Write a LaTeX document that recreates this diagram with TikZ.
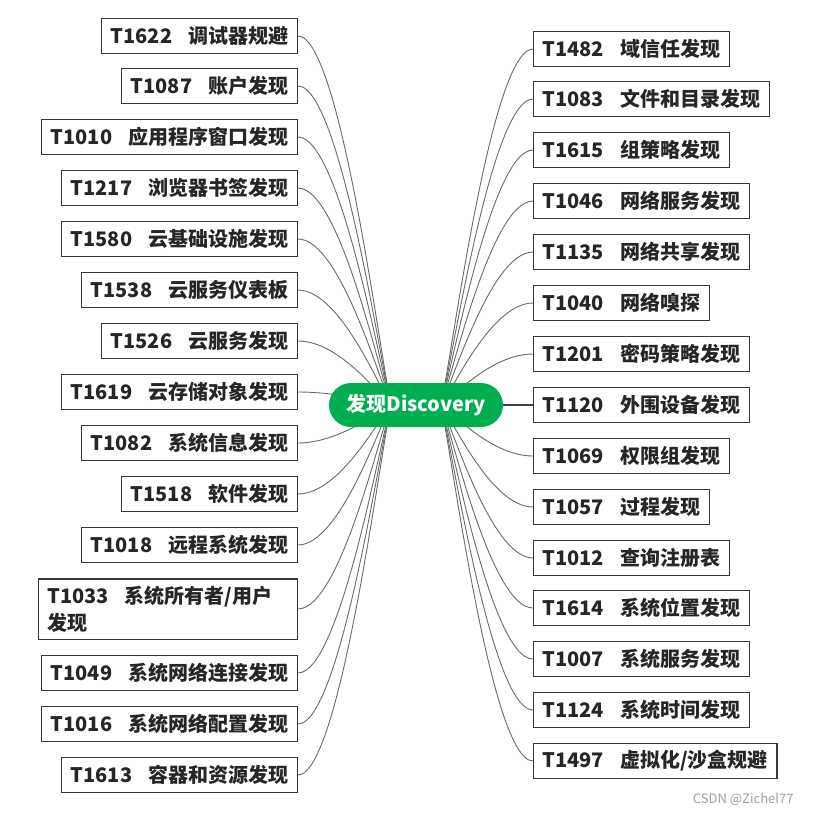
\documentclass[tikz,border=0pt]{standalone}
\usepackage{fontspec}
\setmainfont{Noto Sans CJK SC}
\definecolor{mapgreen}{HTML}{00AE4F}
\definecolor{linkgray}{HTML}{6A6A6A}
\tikzset{
  leaf/.style={draw=black!78, line width=1.3pt, fill=white, inner xsep=9pt, minimum height=35pt, font=\fontsize{20}{27}\selectfont\bfseries, text=black!85},
  link/.style={draw=linkgray, line width=0.9pt},
}
\newcommand{\tk}[2]{#1\hspace{0.8em}#2}
\begin{document}
\begin{tikzpicture}[x=1pt, y=-1pt]
\useasboundingbox (0,0) rectangle (813,814);
\node[leaf, anchor=east] (t1622) at (298,36) {\tk{T1622}{调试器规避}};
\node[leaf, anchor=east] (t1087) at (298,86) {\tk{T1087}{账户发现}};
\node[leaf, anchor=east] (t1010) at (298,137) {\tk{T1010}{应用程序窗口发现}};
\node[leaf, anchor=east] (t1217) at (298,188) {\tk{T1217}{浏览器书签发现}};
\node[leaf, anchor=east] (t1580) at (298,239) {\tk{T1580}{云基础设施发现}};
\node[leaf, anchor=east] (t1538) at (298,290) {\tk{T1538}{云服务仪表板}};
\node[leaf, anchor=east] (t1526) at (298,341) {\tk{T1526}{云服务发现}};
\node[leaf, anchor=east] (t1619) at (298,392) {\tk{T1619}{云存储对象发现}};
\node[leaf, anchor=east] (t1082) at (298,443) {\tk{T1082}{系统信息发现}};
\node[leaf, anchor=east] (t1518) at (298,494) {\tk{T1518}{软件发现}};
\node[leaf, anchor=east] (t1018) at (298,545) {\tk{T1018}{远程系统发现}};
\node[leaf, anchor=east, text width=241pt, align=left, inner ysep=7pt] (t1033) at (298,609) {\tk{T1033}{系统所有者/用户}\\发现};
\node[leaf, anchor=east] (t1049) at (298,673) {\tk{T1049}{系统网络连接发现}};
\node[leaf, anchor=east] (t1016) at (298,724) {\tk{T1016}{系统网络配置发现}};
\node[leaf, anchor=east] (t1613) at (298,775) {\tk{T1613}{容器和资源发现}};
\node[leaf, anchor=west] (t1482) at (533,49) {\tk{T1482}{域信任发现}};
\node[leaf, anchor=west] (t1083) at (533,99) {\tk{T1083}{文件和目录发现}};
\node[leaf, anchor=west] (t1615) at (533,150) {\tk{T1615}{组策略发现}};
\node[leaf, anchor=west] (t1046) at (533,201) {\tk{T1046}{网络服务发现}};
\node[leaf, anchor=west] (t1135) at (533,252) {\tk{T1135}{网络共享发现}};
\node[leaf, anchor=west] (t1040) at (533,303) {\tk{T1040}{网络嗅探}};
\node[leaf, anchor=west] (t1201) at (533,354) {\tk{T1201}{密码策略发现}};
\node[leaf, anchor=west] (t1120) at (533,405) {\tk{T1120}{外围设备发现}};
\node[leaf, anchor=west] (t1069) at (533,456) {\tk{T1069}{权限组发现}};
\node[leaf, anchor=west] (t1057) at (533,507) {\tk{T1057}{过程发现}};
\node[leaf, anchor=west] (t1012) at (533,558) {\tk{T1012}{查询注册表}};
\node[leaf, anchor=west] (t1614) at (533,608) {\tk{T1614}{系统位置发现}};
\node[leaf, anchor=west] (t1007) at (533,659) {\tk{T1007}{系统服务发现}};
\node[leaf, anchor=west] (t1124) at (533,710) {\tk{T1124}{系统时间发现}};
\node[leaf, anchor=west] (t1497) at (533,761) {\tk{T1497}{虚拟化/沙盒规避}};
\coordinate (lhub) at (392,405);
\coordinate (rhub) at (440,405);
\foreach \n in {t1622,t1087,t1010,t1217,t1580,t1538,t1526,t1619,t1082,t1518,t1018,t1033,t1049,t1016,t1613}
  \draw[link] (\n.east) .. controls +(45,0) and (386,405) .. (lhub);
\foreach \n in {t1482,t1083,t1615,t1046,t1135,t1040,t1201,t1069,t1057,t1012,t1614,t1007,t1124,t1497}
  \draw[link] (\n.west) .. controls +(-45,0) and (446,405) .. (rhub);
\draw[link, line width=1.6pt, draw=black!75] (t1120.west) -- (rhub);
\node[fill=mapgreen, text=white, rounded corners=22pt, minimum width=174pt, minimum height=44pt, font=\fontsize{20}{24}\selectfont\bfseries] (root) at (416,405) {发现Discovery};
\node[anchor=east, text=black!38, font=\fontsize{13}{15}\selectfont] (mark) at (797,799) {CSDN @Zichel77};
\end{tikzpicture}
\end{document}
